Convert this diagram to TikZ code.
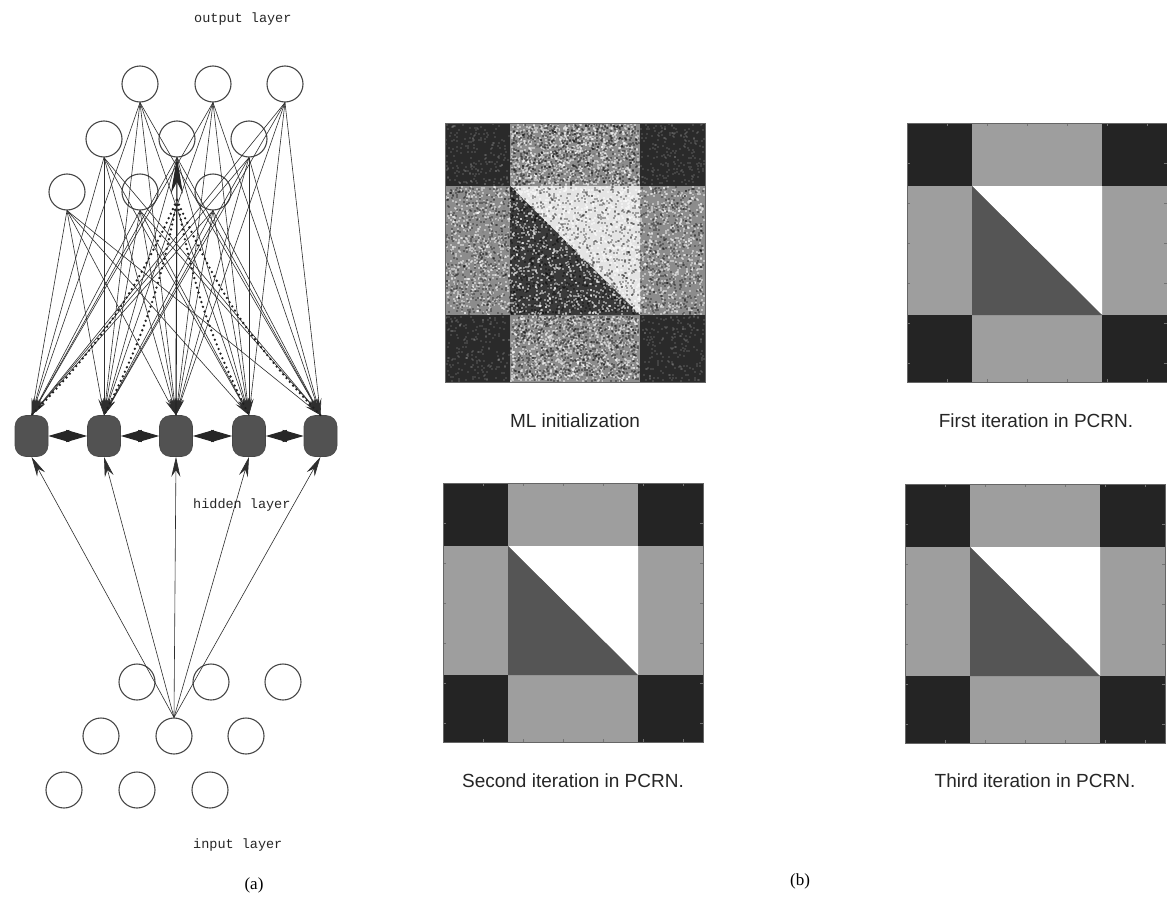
\documentclass[tikz,border=0pt]{standalone}
\usepackage{fontspec}
\setmainfont{Liberation Serif}
\setsansfont{Liberation Sans}
\setmonofont{Liberation Mono}
\usetikzlibrary{arrows.meta}

\definecolor{mldark}{HTML}{2A2A2A}
\definecolor{mlgray}{HTML}{8C8C8C}
\definecolor{mlwhite}{HTML}{E4E4E4}
\definecolor{mltri}{HTML}{3A3A3A}
\definecolor{itdark}{HTML}{242424}
\definecolor{itgray}{HTML}{9E9E9E}
\definecolor{itwhite}{HTML}{FFFFFF}
\definecolor{ittri}{HTML}{555555}

\newcommand\mkimage[6]{%
  \begin{scope}[shift={(#1,#2)}]
    \fill[#4] (0,0) rectangle (260,259);
    \fill[#3] (0,0) rectangle (65,63);
    \fill[#3] (195,0) rectangle (260,63);
    \fill[#3] (0,192) rectangle (65,259);
    \fill[#3] (195,192) rectangle (260,259);
    \fill[#5] (65,63) -- (195,63) -- (195,192) -- cycle;
    \fill[#6] (65,63) -- (65,192) -- (195,192) -- cycle;
  \end{scope}}

\newcommand\mkticks[2]{%
  \begin{scope}[shift={(#1,#2)}]
    \foreach \t in {40,80,...,240}{
      \draw[black!55,line width=0.6pt] (\t,0) -- (\t,3);
      \draw[black!55,line width=0.6pt] (\t,259) -- (\t,256);
      \draw[black!55,line width=0.6pt] (0,\t) -- (3,\t);
      \draw[black!55,line width=0.6pt] (260,\t) -- (257,\t);
    }
    \draw[black!60,line width=0.7pt] (0,0) rectangle (260,259);
  \end{scope}}

% random specks in a band: x0 y0 w h count colour opacity
\newcommand\specks[7]{%
  \foreach \k in {1,...,#5}{
    \pgfmathsetmacro\px{#1+rnd*(#3-2)}\pgfmathsetmacro\py{#2+rnd*(#4-2)}
    \fill[#6,opacity=#7] (\px,\py) rectangle ++(2,2);}}

\tikzset{
  unit/.style={circle, draw=black!72, line width=1.1pt, minimum size=36pt, inner sep=0pt},
  hid/.style={rounded corners=11pt, fill=black!68, draw=black!72, line width=0.6pt,
              minimum width=33pt, minimum height=41pt, inner sep=0pt},
  conn/.style={draw=black!82, line width=0.6pt},
  downhead/.style={-{Stealth[length=17pt,width=5.5pt]}},
  uphead/.style={-{Stealth[length=20pt,width=9pt]}},
  bigup/.style={draw=black!85, line width=1.1pt, -{Stealth[length=36pt,width=12pt]}},
  lateral/.style={draw=black!85, line width=1pt,
    {Triangle[length=21pt,width=12pt]}-{Triangle[length=21pt,width=12pt]}},
  dotline/.style={draw=black!88, line width=2.6pt, line cap=round, dash pattern=on 0pt off 5pt},
  ttlabel/.style={font=\ttfamily\fontsize{13.5}{15}\selectfont, text=black!85, anchor=west, inner sep=0pt},
  caption/.style={font=\sffamily\fontsize{19}{22}\selectfont, text=black!85, inner sep=0pt},
  sublabel/.style={font=\rmfamily\fontsize{17}{19}\selectfont, text=black, inner sep=0pt}
}

\begin{document}
\begin{tikzpicture}[x=1pt,y=-1pt]
\useasboundingbox (0,0) rectangle (1167,902);
\fill[white] (0,0) rectangle (1167,902);

% ---------------- images (b)
\mkimage{445}{123}{mldark}{mlgray}{mlwhite}{mltri}
\begin{scope}[shift={(445,123)}]
  \pgfmathsetseed{7}
  \specks{65}{0}{130}{63}{900}{white}{.45}
  \specks{65}{192}{130}{67}{900}{white}{.45}
  \specks{0}{63}{260}{129}{2400}{white}{.45}
  \specks{65}{0}{130}{63}{700}{black}{.35}
  \specks{65}{192}{130}{67}{700}{black}{.35}
  \specks{0}{63}{260}{129}{1900}{black}{.3}
  \specks{0}{0}{65}{63}{200}{white}{.12}
  \specks{195}{0}{65}{63}{200}{white}{.12}
  \specks{0}{192}{65}{67}{200}{white}{.12}
  \specks{195}{192}{65}{67}{200}{white}{.12}
  \draw[black!60,line width=0.7pt] (0,0) rectangle (260,259);
\end{scope}
\mkimage{907}{123}{itdark}{itgray}{itwhite}{ittri}
\mkticks{907}{123}
\mkimage{443}{483}{itdark}{itgray}{itwhite}{ittri}
\mkticks{443}{483}
\mkimage{905}{484}{itdark}{itgray}{itwhite}{ittri}
\mkticks{905}{484}

\node[caption] (c1) at (575,421) {ML initialization};
\node[caption] (c2) at (1036,421) {First iteration in PCRN.};
\node[caption] (c3) at (573,781) {Second iteration in PCRN.};
\node[caption] (c4) at (1035,781) {Third iteration in PCRN.};

% ---------------- network (a)
\node[unit] (O1) at (140,84) {};
\node[unit] (O2) at (213,84) {};
\node[unit] (O3) at (285,84) {};
\node[unit] (O4) at (104,139) {};
\node[unit] (O5) at (177,139) {};
\node[unit] (O6) at (249,139) {};
\node[unit] (O7) at (67,192) {};
\node[unit] (O8) at (140,192) {};
\node[unit] (O9) at (213,192) {};

\node[hid] (H1) at (31.5,436) {};
\node[hid] (H2) at (104,436) {};
\node[hid] (H3) at (176,436) {};
\node[hid] (H4) at (249,436) {};
\node[hid] (H5) at (320.5,436) {};

\node[unit] (I1) at (137,682) {};
\node[unit] (I2) at (211,682) {};
\node[unit] (I3) at (283,682) {};
\node[unit] (I4) at (101,736) {};
\node[unit] (I5) at (174,736) {};
\node[unit] (I6) at (246,736) {};
\node[unit] (I7) at (64,790) {};
\node[unit] (I8) at (137,790) {};
\node[unit] (I9) at (210,790) {};

\coordinate (dsrc) at (177,200);

% output -> hidden connections
\foreach \o in {O1,O2,O3,O4,O5,O6,O7,O8,O9}{
  \foreach \h in {H1,H2,H3,H4,H5}{
    \draw[conn,downhead] (\o.south) -- (\h.north);
  }
}
% dotted connections
\draw[dotline] (dsrc) to[bend left=10] (H1.north);
\draw[dotline] (dsrc) to[bend left=8] (H2.north);
\draw[dotline] (dsrc) to[bend right=8] (H4.north);
\draw[dotline] (dsrc) to[bend right=10] (H5.north);
% big upward arrow
\draw[bigup] (H3.north) -- (O5.south);

% lateral connections
\draw[lateral] (H1) -- (H2);
\draw[lateral] (H2) -- (H3);
\draw[lateral] (H3) -- (H4);
\draw[lateral] (H4) -- (H5);

% input -> hidden
\foreach \h in {H1,H2,H3,H4,H5}{
  \draw[conn,uphead] (I5.north) -- (\h.south);
}

\node[ttlabel] (lo) at (194,19) {output layer};
\node[ttlabel] (lh) at (193,505) {hidden layer};
\node[ttlabel] (li) at (193,845) {input layer};

\node[sublabel] (la) at (254,885) {(a)};
\node[sublabel] (lb) at (800,881) {(b)};
\end{tikzpicture}
\end{document}
